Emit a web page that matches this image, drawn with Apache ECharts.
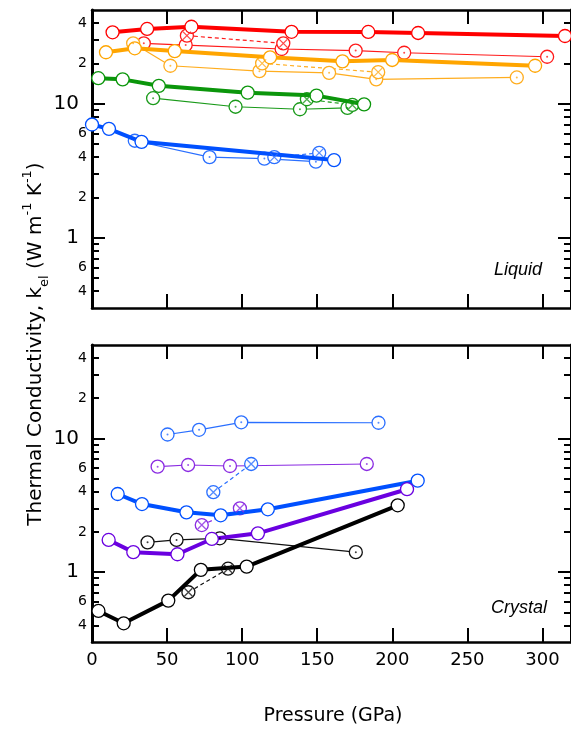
<!DOCTYPE html>
<html>
<head>
<meta charset="utf-8">
<script src="https://cdn.jsdelivr.net/npm/echarts@6/dist/echarts.min.js"></script>
<style>
  html, body { margin: 0; padding: 0; background: #fff; }
  #chart { width: 571px; height: 731px; }
</style>
</head>
<body>
<div id="chart"></div>
<script>
// pressure (GPa), conductivity (W m-1 K-1)
// liquid
var liqRedThick = [[13.7, 34.1], [36.7, 36.1], [66.2, 37.5], [132.9, 34.4], [184.0, 34.3], [217.2, 33.7], [315.0, 32.0]];
var liqRedThin = [[34.5, 28.2], [62.4, 27.4], [126.3, 25.6], [175.6, 24.9], [207.9, 24.0], [303.1, 22.4]];
var liqRedDash = [[63.2, 32.2], [127.4, 28.2]];
var liqOrangeThick = [[9.3, 24.2], [28.5, 25.9], [55.1, 24.7], [118.6, 22.2], [166.8, 20.7], [199.9, 21.2], [295.1, 19.2]];
var liqOrangeThin = [[27.4, 28.2], [52.2, 19.2], [111.5, 17.5], [157.9, 17.0], [189.3, 15.2], [282.9, 15.7]];
var liqOrangeDash = [[113.3, 20.0], [190.6, 17.2]];
var liqGreenThick = [[4.2, 15.5], [20.4, 15.2], [44.5, 13.6], [103.7, 12.1], [149.5, 11.5], [181.2, 9.9]];
var liqGreenThin = [[40.7, 11.0], [95.6, 9.5], [138.5, 9.1], [170.1, 9.3]];
var liqGreenDash = [[143.1, 10.8], [173.4, 9.8]];
var liqBlueThick = [[0, 7.0], [11.3, 6.5], [33.0, 5.2], [161.2, 3.8]];
var liqBlueThin = [[28.5, 5.3], [78.3, 4.0], [114.8, 3.9], [149.1, 3.7]];
var liqBlueDash = [[121.4, 4.0], [151.3, 4.3]];
// crystal
var crysBlueThin = [[50.3, 10.7], [71.3, 11.6], [99.4, 13.2], [190.8, 13.1]];
var crysPurpleThin = [[43.7, 6.15], [64.0, 6.33], [91.9, 6.22], [183.0, 6.44]];
var crysBlueThick = [[17.1, 3.84], [33.3, 3.23], [62.9, 2.80], [85.7, 2.66], [117.1, 2.95], [216.9, 4.83]];
var crysBlueDash = [[80.8, 3.96], [106.0, 6.44]];
var crysPurpleThick = [[11.1, 1.74], [27.5, 1.41], [56.9, 1.36], [79.8, 1.77], [110.5, 1.95], [209.8, 4.17]];
var crysPurpleDash = [[73.1, 2.25], [98.5, 3.00]];
var crysBlackThin = [[37.0, 1.67], [56.3, 1.74], [85.1, 1.79], [175.7, 1.41]];
var crysBlackThick = [[4.3, 0.512], [21.1, 0.414], [50.8, 0.612], [72.5, 1.04], [103.0, 1.10], [203.6, 3.16]];
var crysBlackDash = [[64.2, 0.707], [90.6, 1.06]];

// ticks
var xTicks = [0, 50, 100, 150, 200, 250, 300];
var majorVals = [1, 10];
var minorVals = [0.4, 0.5, 0.6, 0.7, 0.8, 0.9, 2, 3, 4, 5, 6, 7, 8, 9, 20, 30, 40];
var minorLabelVals = [0.4, 0.6, 2, 4, 6, 20, 40];

var X_MAX = 319;
var LOG_MIN = Math.log10(0.3);
var LOG_MAX = Math.log10(50);
var FONT = 'DejaVu Sans';

function logs(arr) { return arr.map(function (v) { return Math.log10(v); }); }
function toLog(data) { return data.map(function (d) { return [d[0], Math.log10(d[1])]; }); }
function digit(v) {
    var x = Math.pow(10, v);
    var d = Math.pow(10, Math.floor(Math.log10(x) + 1e-9));
    return String(Math.round(x / d));
}

var grids = [
    { left: 92, width: 481, top: 10, height: 298 },
    { left: 92, width: 481, top: 345, height: 297 }
];

var xAxes = [], yAxes = [];
grids.forEach(function (g, gi) {
    ['bottom', 'top'].forEach(function (pos) {
        var labels = gi === 1 && pos === 'bottom';
        xAxes.push({
            gridIndex: gi, type: 'value', min: 0, max: X_MAX, position: pos,
            axisLine: { onZero: false, lineStyle: { color: '#000', width: 2.5 } },
            axisTick: { inside: true, length: 14, customValues: xTicks, lineStyle: { color: '#000', width: 2 } },
            axisLabel: { show: labels, customValues: xTicks, fontFamily: FONT, fontSize: 18, color: '#000', margin: 9 },
            splitLine: { show: false }
        });
    });
    ['left', 'right'].forEach(function (pos) {
        var left = pos === 'left';
        yAxes.push({
            gridIndex: gi, type: 'value', min: LOG_MIN, max: LOG_MAX, position: pos,
            axisLine: { onZero: false, lineStyle: { color: '#000', width: 3 } },
            axisTick: { inside: true, length: 13, customValues: logs(majorVals), lineStyle: { color: '#000', width: 2 } },
            axisLabel: {
                show: left, customValues: logs(majorVals), fontFamily: FONT, fontSize: 20, color: '#000', margin: 13,
                formatter: function (v) { return String(Math.round(Math.pow(10, v))); }
            },
            splitLine: { show: false }
        });
        yAxes.push({
            gridIndex: gi, type: 'value', min: LOG_MIN, max: LOG_MAX, position: pos,
            axisLine: { show: false, onZero: false },
            axisTick: { inside: true, length: 7, customValues: logs(minorVals), lineStyle: { color: '#000', width: 2 } },
            axisLabel: { show: left, customValues: logs(minorLabelVals), fontFamily: FONT, fontSize: 14, color: '#000', margin: 5, formatter: digit },
            splitLine: { show: false }
        });
    });
});

var series = [];
function axisIdx(g) { return { xAxisIndex: g * 2, yAxisIndex: g * 4 }; }

function thick(data, color, g) {
    series.push(Object.assign({
        type: 'line', data: toLog(data), symbol: 'circle', symbolSize: 13, z: 4,
        lineStyle: { color: color, width: 4 },
        itemStyle: { color: '#fff', borderColor: color, borderWidth: 1.3 }
    }, axisIdx(g)));
}
function thin(data, color, g) {
    series.push(Object.assign({
        type: 'line', data: toLog(data), symbol: 'circle', symbolSize: 13, z: 3,
        lineStyle: { color: color, width: 1.2 },
        itemStyle: { color: '#fff', borderColor: color, borderWidth: 1.3 }
    }, axisIdx(g)));
    series.push(Object.assign({
        type: 'scatter', data: toLog(data), symbol: 'circle', symbolSize: 2, z: 5,
        itemStyle: { color: color }
    }, axisIdx(g)));
}
function dashed(data, color, g) {
    series.push(Object.assign({
        type: 'line', data: toLog(data), symbol: 'circle', symbolSize: 13, z: 3,
        lineStyle: { color: color, width: 1.2, type: [4, 3] },
        itemStyle: { color: '#fff', borderColor: color, borderWidth: 1.3 }
    }, axisIdx(g)));
    series.push(Object.assign({
        type: 'scatter', data: toLog(data), symbol: 'path://M0,0L10,10M10,0L0,10', symbolSize: 8, z: 5,
        itemStyle: { color: 'none', borderColor: color, borderWidth: 1.3 }
    }, axisIdx(g)));
}

// liquid
thin(liqRedThin, '#ff1a1a', 0);
dashed(liqRedDash, '#ff1a1a', 0);
thick(liqRedThick, '#ff0000', 0);
thin(liqOrangeThin, '#ffad1f', 0);
dashed(liqOrangeDash, '#ffad1f', 0);
thick(liqOrangeThick, '#ffa500', 0);
thin(liqGreenThin, '#1a9a1a', 0);
dashed(liqGreenDash, '#1a9a1a', 0);
thick(liqGreenThick, '#0b960b', 0);
thin(liqBlueThin, '#2a6fff', 0);
dashed(liqBlueDash, '#2a6fff', 0);
thick(liqBlueThick, '#0050ff', 0);
// crystal
thin(crysBlueThin, '#2a6fff', 1);
thin(crysPurpleThin, '#8a2be2', 1);
thin(crysBlackThin, '#111', 1);
dashed(crysBlueDash, '#2a6fff', 1);
dashed(crysPurpleDash, '#8a2be2', 1);
dashed(crysBlackDash, '#111', 1);
thick(crysBlueThick, '#0050ff', 1);
thick(crysPurpleThick, '#6a00e0', 1);
thick(crysBlackThick, '#000', 1);

var chart = echarts.init(document.getElementById('chart'));
chart.setOption({
    animation: false,
    backgroundColor: '#fff',
    grid: grids,
    xAxis: xAxes,
    yAxis: yAxes,
    series: series,
    graphic: [
        {
            type: 'text', x: 36, y: 344, rotation: Math.PI / 2,
            style: {
                text: '{a|Thermal Conductivity, k}{b|el}{a| (W m}{c|-1}{a| K}{c|-1}{a|)}',
                textAlign: 'center', textVerticalAlign: 'middle',
                rich: {
                    a: { fontFamily: FONT, fontSize: 20, fill: '#000', lineHeight: 30 },
                    b: { fontFamily: FONT, fontSize: 13, fill: '#000', verticalAlign: 'bottom' },
                    c: { fontFamily: FONT, fontSize: 13, fill: '#000', verticalAlign: 'top' }
                }
            }
        },
        {
            type: 'text', x: 333, y: 716,
            style: { text: 'Pressure (GPa)', font: '19px "DejaVu Sans"', fill: '#000', textAlign: 'center', textVerticalAlign: 'middle' }
        },
        {
            type: 'text', x: 542, y: 270,
            style: { text: 'Liquid', font: 'italic 18px "Liberation Sans"', fill: '#000', textAlign: 'right', textVerticalAlign: 'middle' }
        },
        {
            type: 'text', x: 547, y: 608,
            style: { text: 'Crystal', font: 'italic 18px "Liberation Sans"', fill: '#000', textAlign: 'right', textVerticalAlign: 'middle' }
        }
    ]
});
</script>
</body>
</html>
